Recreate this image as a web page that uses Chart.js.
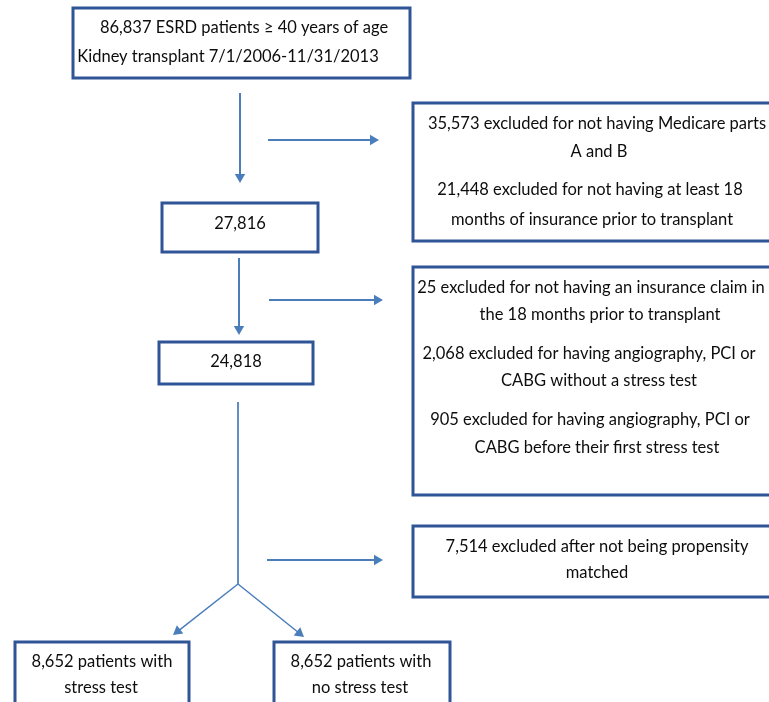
<!DOCTYPE html>
<html>
<head>
<meta charset="utf-8">
<script src="https://cdn.jsdelivr.net/npm/chart.js@4"></script>
<style>
  body { margin: 0; background: #fff; }
  #wrap { width: 769px; height: 702px; }
</style>
</head>
<body>
<div id="wrap"><canvas id="flow"></canvas></div>
<script>
// box contents (counts)
const boxText = [
  ['86,837 ESRD patients \u2265 40 years of age', 'Kidney transplant 7/1/2006-11/31/2013'],
  ['27,816'],
  ['24,818'],
  ['35,573 excluded for not having Medicare parts', 'A and B',
   '21,448 excluded for not having at least 18', 'months of insurance prior to transplant'],
  ['25 excluded for not having an insurance claim in', 'the 18 months prior to transplant',
   '2,068 excluded for having angiography, PCI or', 'CABG without a stress test',
   '905 excluded for having angiography, PCI or', 'CABG before their first stress test'],
  ['7,514 excluded after not being propensity', 'matched'],
  ['8,652 patients with', 'stress test'],
  ['8,652 patients with', 'no stress test']
];

// layout in the 769 x 702 page frame
const boxRects = [
  [73, 8, 410, 78], [162, 203, 318, 252], [159, 342, 313, 384],
  [413, 103, 775, 241], [413, 267, 775, 495], [413, 526, 775, 597],
  [15, 642, 189, 712], [274, 642, 450, 712]
];
const textX = [[244, 228], [240], [236], [597, 599, 590, 592], [591, 600, 589, 599, 590, 597],
  [597, 597], [102, 101], [361, 360]];
const textY = [[28, 57], [224], [362], [124, 152, 190, 220], [288, 315, 354, 381, 420, 448],
  [547, 573], [662, 688], [662, 688]];

// arrows: start x, start y, tip x, tip y, width, head
const arrows = [
  [240, 93, 240, 183, 2, true], [268, 140, 379, 140, 2, true],
  [239, 258, 239, 335, 2, true], [269, 300, 383, 300, 2, true],
  [238, 402, 238, 584, 1, false], [267, 560, 383, 560, 2, true],
  [238, 584, 173, 635, 1.5, true], [238, 584, 304, 637, 1.5, true]
];

const arrowColor = '#4a7ebb';
const boxColor = '#2f5597';
const headR = 6;

const datasets = arrows.map(a => {
  const [x1, y1, x2, y2, w, head] = a;
  const dx = x2 - x1, dy = y2 - y1, len = Math.hypot(dx, dy);
  const ex = head ? x2 - dx / len * headR : x2;
  const ey = head ? y2 - dy / len * headR : y2;
  const rot = Math.atan2(dx, -dy) * 180 / Math.PI;
  return {
    data: [{ x: x1, y: y1 }, { x: ex, y: ey }],
    showLine: true,
    clip: false,
    borderColor: arrowColor,
    backgroundColor: arrowColor,
    borderWidth: w,
    pointStyle: 'triangle',
    pointRadius: [0, head ? headR : 0],
    pointRotation: rot,
    pointBorderWidth: 0
  };
});

const boxPlugin = {
  id: 'boxes',
  afterDatasetsDraw(chart) {
    const c = chart.ctx, sx = chart.scales.x, sy = chart.scales.y;
    c.save();
    c.strokeStyle = boxColor;
    c.lineWidth = 3;
    boxRects.forEach(r => {
      const x0 = sx.getPixelForValue(r[0]), y0 = sy.getPixelForValue(r[1]);
      const x1 = sx.getPixelForValue(r[2]), y1 = sy.getPixelForValue(r[3]);
      c.strokeRect(x0, y0, x1 - x0, y1 - y0);
    });
    c.fillStyle = '#0d0d0d';
    c.font = '16.5px Lato';
    c.textAlign = 'center';
    c.textBaseline = 'middle';
    boxText.forEach((lines, i) => {
      lines.forEach((t, j) => {
        c.fillText(t, sx.getPixelForValue(textX[i][j]), sy.getPixelForValue(textY[i][j]));
      });
    });
    c.restore();
  }
};

// the line controller pads the chart area by the arrowhead radius (6px),
// so the scale range is set to that inset to keep one unit = one pixel
new Chart(document.getElementById('flow'), {
  type: 'scatter',
  data: { datasets },
  options: {
    responsive: true,
    maintainAspectRatio: false,
    animation: false,
    events: [],
    layout: { padding: 0 },
    plugins: { legend: { display: false }, tooltip: { enabled: false } },
    scales: {
      x: { type: 'linear', min: 6, max: 763, display: false },
      y: { type: 'linear', min: 6, max: 696, reverse: true, display: false }
    }
  },
  plugins: [boxPlugin]
});
</script>
</body>
</html>
